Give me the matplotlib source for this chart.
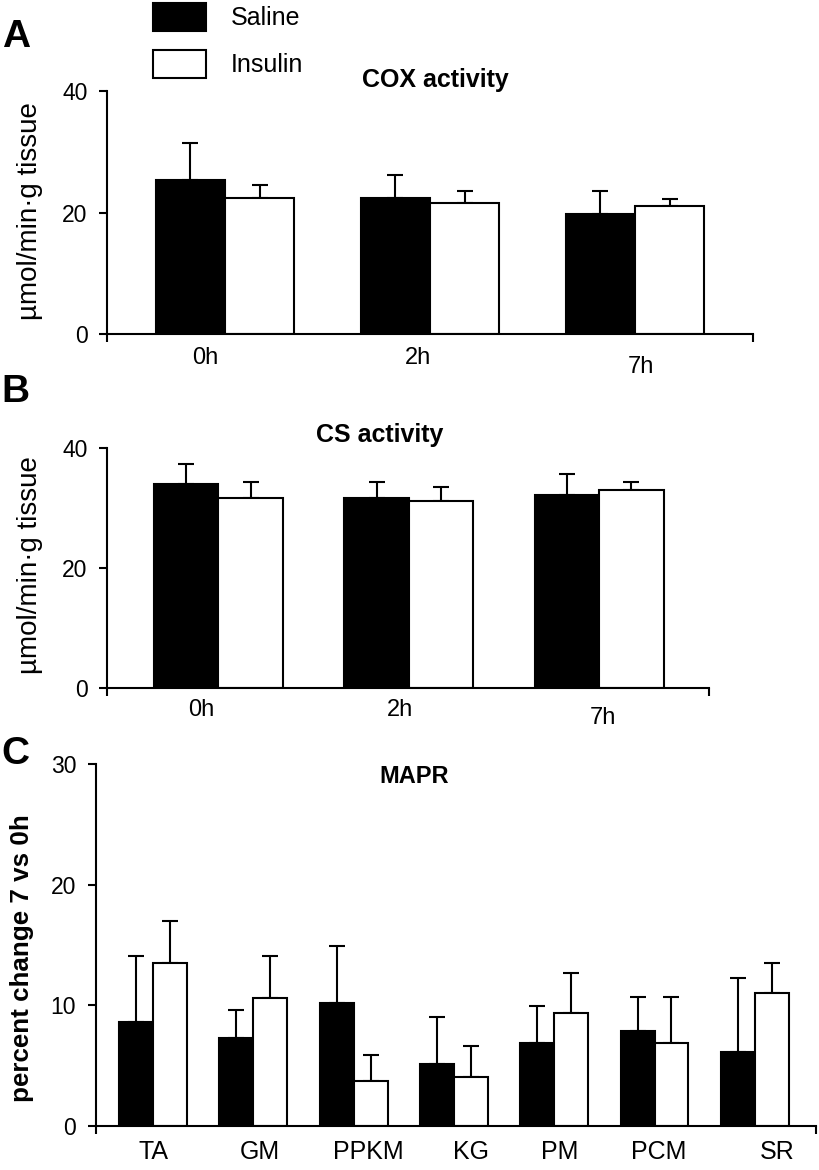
import matplotlib
matplotlib.use('Agg')
import numpy as np
import matplotlib.pyplot as plt

plt.rcParams['font.family'] = ['Liberation Sans', 'DejaVu Sans']

# panel A - COX activity
times = ['0h', '2h', '7h']
cox_saline = [25.4, 22.4, 19.8]
cox_saline_err = [6.0, 3.8, 3.8]
cox_insulin = [22.4, 21.5, 21.0]
cox_insulin_err = [2.1, 2.1, 1.3]

# panel B - CS activity
cs_saline = [33.9, 31.7, 32.2]
cs_saline_err = [3.4, 2.6, 3.4]
cs_insulin = [31.7, 31.2, 33.0]
cs_insulin_err = [2.6, 2.2, 1.3]

# panel C - MAPR
muscles = ['TA', 'GM', 'PPKM', 'KG', 'PM', 'PCM', 'SR']
mapr_saline = [8.65, 7.3, 10.2, 5.15, 6.9, 7.85, 6.1]
mapr_saline_err = [5.45, 2.3, 4.7, 3.9, 3.05, 2.85, 6.2]
mapr_insulin = [13.5, 10.6, 3.75, 4.1, 9.4, 6.85, 11.0]
mapr_insulin_err = [3.5, 3.5, 2.15, 2.55, 3.3, 3.85, 2.5]

W = 0.338
LW = 1.5


def draw_panel(ax, cats, sal, sal_err, ins, ins_err, ymax, xlim,
               lab_dx, lab_dy, lab_size):
    x = np.arange(len(cats))
    b1 = ax.bar(x - W / 2, sal, W, color='black', edgecolor='black', linewidth=LW,
                zorder=2, label='Saline')
    b2 = ax.bar(x + W / 2, ins, W, color='white', edgecolor='black', linewidth=LW,
                zorder=2, label='Insulin')
    ax.errorbar(x - W / 2, sal, yerr=[np.zeros(len(sal)), sal_err], fmt='none',
                ecolor='black', elinewidth=LW, capsize=5.5, capthick=LW, zorder=1)
    ax.errorbar(x + W / 2, ins, yerr=[np.zeros(len(ins)), ins_err], fmt='none',
                ecolor='black', elinewidth=LW, capsize=5.5, capthick=LW, zorder=1)
    ax.set_xlim(*xlim)
    ax.set_ylim(0, ymax)
    ax.spines['top'].set_visible(False)
    ax.spines['right'].set_visible(False)
    ax.spines['left'].set_linewidth(LW)
    ax.spines['bottom'].set_linewidth(LW)
    ax.set_xticks(list(xlim))
    ax.set_xticklabels([])
    ax.tick_params(axis='x', direction='out', length=6, width=LW)
    ax.tick_params(axis='y', direction='out', length=6, width=LW, labelsize=16.5, pad=8)
    for i, c in enumerate(cats):
        ax.annotate(c, xy=(x[i] + lab_dx[i], 0), xycoords=('data', 'axes fraction'),
                    xytext=(0, -lab_dy[i]), textcoords='offset pixels',
                    ha='center', va='center', fontsize=lab_size)
    return b1, b2


fig = plt.figure(figsize=(8.19, 11.7), dpi=100)

axA = fig.add_axes([0.1306, 0.7145, 0.7888, 0.2077])
b1, b2 = draw_panel(axA, times, cox_saline, cox_saline_err, cox_insulin, cox_insulin_err,
                    40, (-0.576, 2.576), [-0.098, -0.056, 0.03], [24, 24, 33], 17)
axA.set_yticks([0, 20, 40])
axA.text(0.509, 1.045, 'COX activity', transform=axA.transAxes, ha='center', va='center',
         fontsize=18, fontweight='bold')
axA.set_ylabel('µmol/min·g tissue', fontsize=20)
axA.yaxis.set_label_coords(-0.099, 0.504)

axB = fig.add_axes([0.1306, 0.4120, 0.7351, 0.2054])
draw_panel(axB, times, cs_saline, cs_saline_err, cs_insulin, cs_insulin_err,
           40, (-0.585, 2.577), [-0.09, -0.045, 0.02], [22, 22, 30], 17)
axB.set_yticks([0, 20, 40])
axB.text(0.4535, 1.053, 'CS activity', transform=axB.transAxes, ha='center', va='center',
         fontsize=18, fontweight='bold')
axB.set_ylabel('µmol/min·g tissue', fontsize=20)
axB.yaxis.set_label_coords(-0.106, 0.512)

axC = fig.add_axes([0.1167, 0.0376, 0.8796, 0.3092])
draw_panel(axC, muscles, mapr_saline, mapr_saline_err, mapr_insulin, mapr_insulin_err,
           30, (-0.573, 6.61), [0, 0.06, 0.15, 0.17, 0.05, 0.04, 0.22],
           [26] * 7, 18)
axC.set_yticks([0, 10, 20, 30])
axC.text(0.442, 0.965, 'MAPR', transform=axC.transAxes, ha='center', va='center',
         fontsize=17, fontweight='bold')
axC.set_ylabel('percent change 7 vs 0h', fontsize=18.7, fontweight='bold')
axC.yaxis.set_label_coords(-0.0855, 0.463)

# panel letters
fig.text(0.002, 1 - 37 / 1170, 'A', fontsize=28, fontweight='bold', va='center')
fig.text(0.002, 1 - 392 / 1170, 'B', fontsize=28, fontweight='bold', va='center')
fig.text(0.002, 1 - 754 / 1170, 'C', fontsize=28, fontweight='bold', va='center')

fig.legend(handles=[b1, b2], labels=['Saline', 'Insulin'], loc='upper left',
           bbox_to_anchor=(153 / 819, 1 - 3 / 1170), frameon=False, fontsize=18,
           handlelength=2.12, handleheight=1.36, handletextpad=1.0,
           labelspacing=0.74, borderpad=0, borderaxespad=0)

fig.savefig('out.png', dpi=100)
